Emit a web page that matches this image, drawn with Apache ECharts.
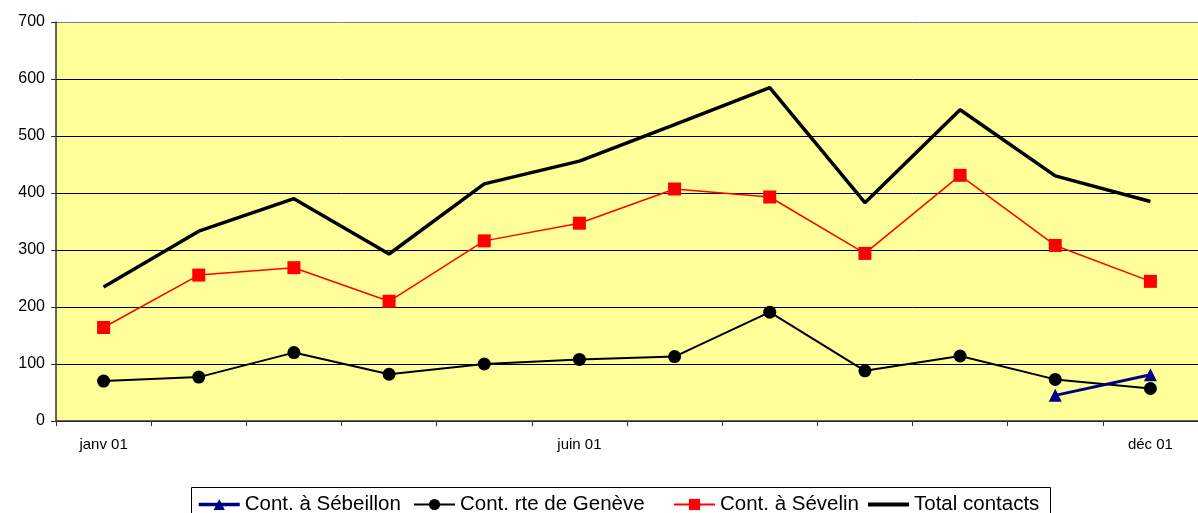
<!DOCTYPE html>
<html>
<head>
<meta charset="utf-8">
<script src="https://cdn.jsdelivr.net/npm/echarts@6/dist/echarts.min.js"></script>
<style>
html,body{margin:0;padding:0;background:#fff;}
#c{width:1198px;height:513px;}
</style>
</head>
<body>
<div id="c"></div>
<script>
const categories = ['janv 01','févr 01','mars 01','avr 01','mai 01','juin 01','juil 01','août 01','sept 01','oct 01','nov 01','déc 01'];
const shownLabels = ['janv 01','juin 01','déc 01'];
const sebeillon = [null,null,null,null,null,null,null,null,null,null,45,81];
const geneve = [70,77,120,82,100,108,113,191,88,114,73,57];
const sevelin = [164,256,269,210,316,347,407,393,294,431,308,245];
const total = [235,333,390,293,416,456,520,585,383,546,430,385];
const yTicks = [0,100,200,300,400,500,600,700];

const chart = echarts.init(document.getElementById('c'));
const font = 'Arial, "Liberation Sans", sans-serif';
const legendText = {fontFamily: font, fontSize: 20.5, color: '#000'};
function leg(name, left, lw, extra){
  return Object.assign({show:true, data:[name], left:left, top:494, itemWidth:41, itemHeight:14, itemGap:0, padding:0,
    textStyle: legendText, selectedMode:false, lineStyle:{width:lw}}, extra||{});
}
chart.setOption({
  animation:false,
  backgroundColor:'#fff',
  grid:{left:56, right:0, top:22, bottom:92, show:true, backgroundColor:'#FFFF99', borderWidth:0},
  xAxis:{
    type:'category', data:categories, boundaryGap:true,
    axisLine:{lineStyle:{color:'#333', width:1.5}},
    axisTick:{show:true, interval:0, length:5, lineStyle:{color:'#333'}},
    axisLabel:{interval:0, formatter:(v)=> shownLabels.includes(v)? v : '', fontFamily:font, fontSize:15, color:'#000', margin:16}
  },
  yAxis:{
    type:'value', min:yTicks[0], max:yTicks[yTicks.length-1], interval:100,
    axisLine:{show:true, lineStyle:{color:'#333', width:1.5}},
    axisTick:{show:true, length:5, lineStyle:{color:'#333'}},
    splitLine:{show:true, lineStyle:{color:['#000','#000','#000','#000','#000','#000','#000','#808080'], width:1}},
    axisLabel:{fontFamily:font, fontSize:16, color:'#000', margin:11}
  },
  graphic:[{type:'rect', shape:{x:191.5, y:487.5, width:859, height:40}, style:{fill:null, stroke:'#000', lineWidth:1}, z:-1}],
  legend:[
    leg('Cont. à Sébeillon',197,3.5),
    leg('Cont. rte de Genève',413,2),
    leg('Cont. à Sévelin',673,2),
    leg('Total contacts',868,3.5,{data:[{name:'Total contacts', icon:'rect'}], itemHeight:4, itemStyle:{color:'#000'}})
  ],
  series:[
    {name:'Cont. à Sébeillon', type:'line', data:sebeillon, symbol:'triangle', symbolSize:13,
      lineStyle:{color:'#000080', width:3}, itemStyle:{color:'#000080'}, z:5},
    {name:'Cont. rte de Genève', type:'line', data:geneve, symbol:'circle', symbolSize:13,
      lineStyle:{color:'#000', width:2}, itemStyle:{color:'#000'}, z:4},
    {name:'Cont. à Sévelin', type:'line', data:sevelin, symbol:'rect', symbolSize:13,
      lineStyle:{color:'#FF0000', width:1.5}, itemStyle:{color:'#FF0000'}, z:3},
    {name:'Total contacts', type:'line', data:total, symbol:'none', showSymbol:false,
      lineStyle:{color:'#000', width:3.5}, itemStyle:{color:'#000'}, z:2}
  ]
});
</script>
</body>
</html>
